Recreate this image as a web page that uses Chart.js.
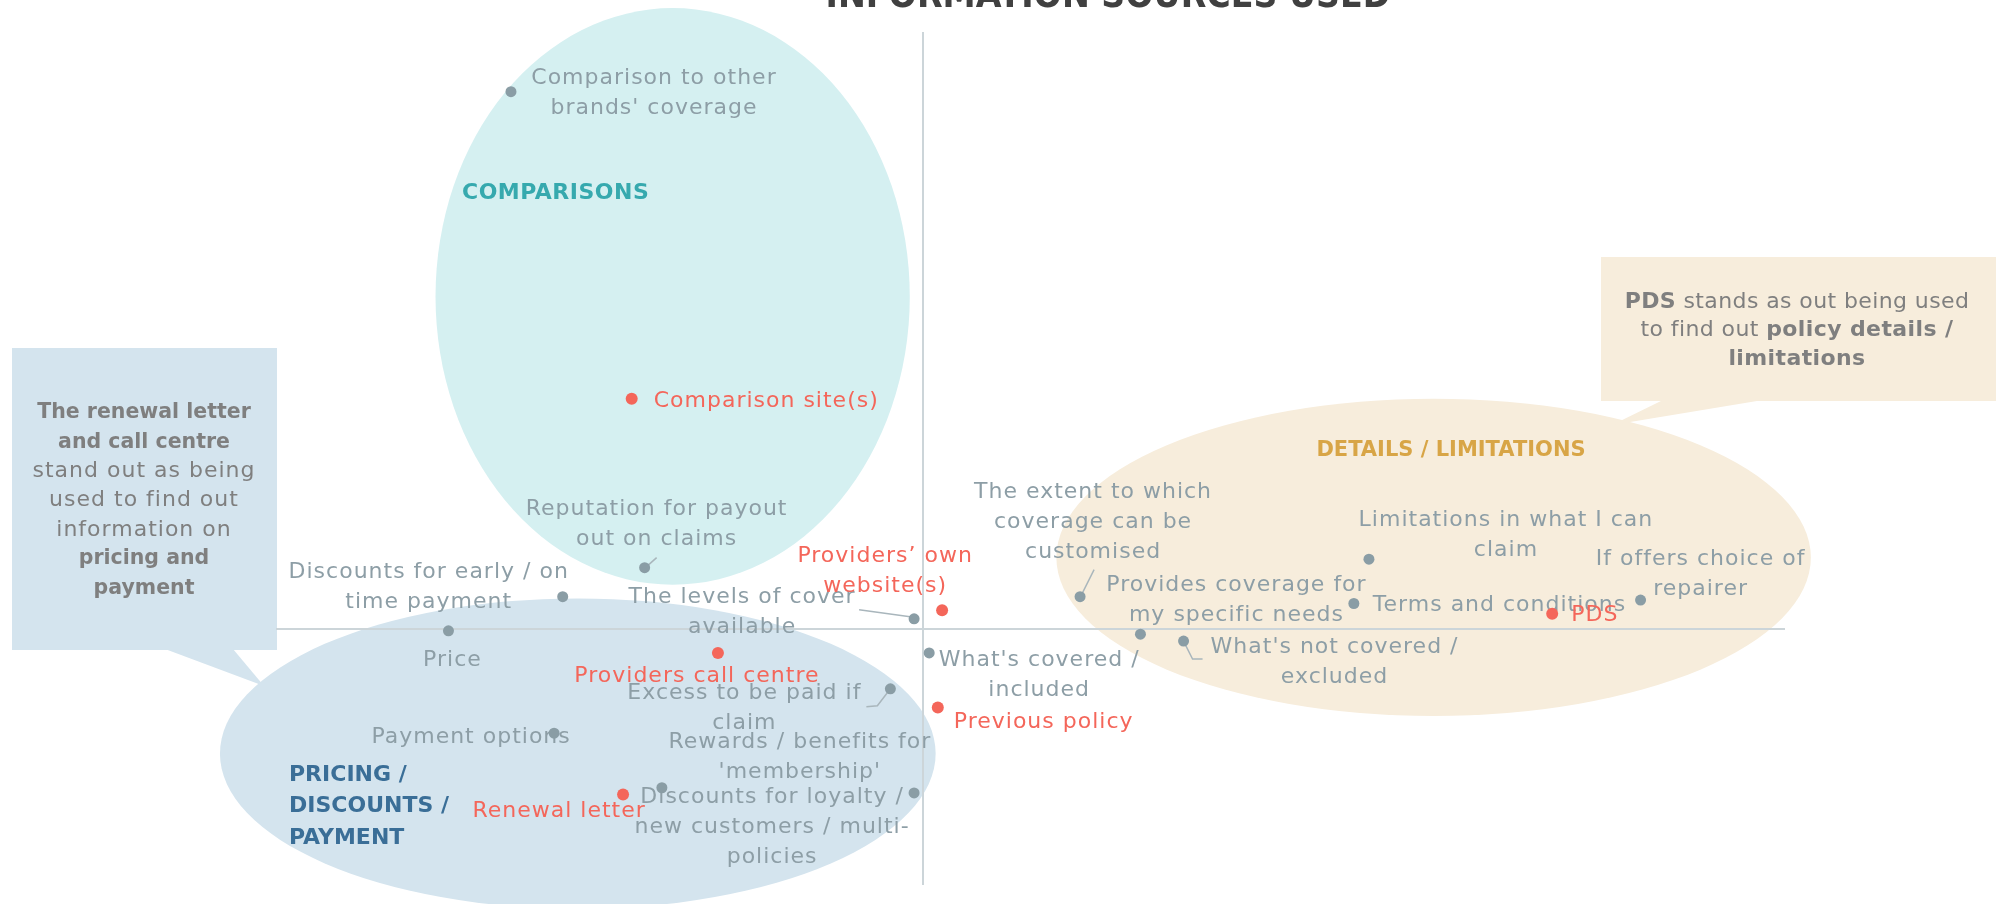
<!DOCTYPE html>
<html>
<head>
<meta charset="utf-8">
<title>Information sources used</title>
<script src="https://cdn.jsdelivr.net/npm/chart.js@4.4.1/dist/chart.umd.min.js"></script>
<style>
  html, body { margin: 0; padding: 0; background: #fff; }
  #wrap { width: 1996px; height: 904px; }
</style>
</head>
<body>
<div id="wrap"><canvas id="chart" width="1996" height="904"></canvas></div>
<script>
// what people look for (grey points)
const attrLabels = [
  "Comparison to other\nbrands' coverage",
  "Reputation for payout\nout on claims",
  "Discounts for early / on\ntime payment",
  "Price",
  "The levels of cover\navailable",
  "What's covered /\nincluded",
  "Excess to be paid if\nclaim",
  "Payment options",
  "Rewards / benefits for\n'membership'",
  "Discounts for loyalty /\nnew customers / multi-\npolicies",
  "The extent to which\ncoverage can be\ncustomised",
  "Provides coverage for\nmy specific needs",
  "Terms and conditions",
  "Limitations in what I can\nclaim",
  "If offers choice of\nrepairer",
  "What's not covered /\nexcluded"
];
const attrX = [-1.91, -1.29, -1.67, -2.20, -0.04, 0.03, -0.15, -1.71, -1.21, -0.04, 0.73, 1.01, 2.00, 2.07, 3.33, 1.21];
const attrY = [3.15, 0.36, 0.19, -0.01, 0.06, -0.14, -0.35, -0.61, -0.93, -0.96, 0.19, -0.03, 0.15, 0.41, 0.17, -0.07];

// information sources (red points)
const sourceLabels = [
  "Comparison site(s)",
  "Providers\u2019 own\nwebsite(s)",
  "Providers call centre",
  "Previous policy",
  "Renewal letter",
  "PDS"
];
const sourceX = [-1.35, 0.09, -0.95, 0.07, -1.39, 2.92];
const sourceY = [1.35, 0.11, -0.14, -0.46, -0.97, 0.09];

const groupNames = ["COMPARISONS", "DETAILS / LIMITATIONS", "PRICING /\nDISCOUNTS /\nPAYMENT"];

// label placement relative to the point: dx, dy (px), align, optional leader line
const attrPlace = [
  [143, -13, "center"],
  [12, -58, "center", [[3, -2], [12, -10]]],
  [-134, -24, "center"],
  [4, 29, "center"],
  [-172, -22, "center", [[-4, -2], [-55, -9]]],
  [110, 7, "center"],
  [-146, 4, "center", [[0, 0], [-13, 17], [-24, 18]]],
  [-83, 4, "center"],
  [138, -45, "center"],
  [-142, 4, "center"],
  [13, -104, "center", [[2, -3], [14, -27]]],
  [96, -49, "center"],
  [19, 2, "left"],
  [137, -39, "center"],
  [60, -41, "center"],
  [151, 6, "center", [[0, 0], [9, 18], [19, 18]]]
];
const sourcePlace = [
  [22, 2, "left"],
  [-57, -54, "center"],
  [-21, 23, "center"],
  [16, 15, "left"],
  [-64, 17, "center"],
  [19, 2, "left"]
];

const FONT = '"DejaVu Sans", "Open Sans", sans-serif';
const GREY_TXT = "#8d9ea6";
const RED = "#f4665a";

function drawLines(ctx, text, x, y, align, font, color, lh, spacing) {
  ctx.save();
  ctx.font = font;
  ctx.letterSpacing = (spacing || 0) + "px";
  ctx.fillStyle = color;
  ctx.textAlign = align;
  ctx.textBaseline = "middle";
  text.split("\n").forEach((line, i) => ctx.fillText(line, x, y + i * lh));
  ctx.restore();
}

// runs: [[text, bold], ...] centred on x
function drawRuns(ctx, runs, x, y, style, color) {
  ctx.save();
  ctx.fillStyle = color;
  ctx.textBaseline = "middle";
  ctx.textAlign = "left";
  const setFont = r => {
    const st = r[1] ? style.bold : style.normal;
    ctx.font = (r[1] ? "bold " : "") + st.size + "px " + FONT;
    ctx.letterSpacing = st.spacing + "px";
  };
  let total = 0;
  runs.forEach(r => { setFont(r); total += ctx.measureText(r[0]).width; });
  let cx = x - total / 2;
  runs.forEach(r => {
    setFont(r);
    ctx.fillText(r[0], cx, y);
    cx += ctx.measureText(r[0]).width;
  });
  ctx.restore();
}

function ellipse(ctx, sx, sy, cx, cy, rx, ry, color) {
  const px = sx.getPixelForValue(cx), py = sy.getPixelForValue(cy);
  const prx = Math.abs(sx.getPixelForValue(cx + rx) - px);
  const pry = Math.abs(sy.getPixelForValue(cy + ry) - py);
  ctx.beginPath();
  ctx.ellipse(px, py, prx, pry, 0, 0, Math.PI * 2);
  ctx.fillStyle = color;
  ctx.fill();
}

function poly(ctx, pts, color) {
  ctx.beginPath();
  ctx.moveTo(pts[0][0], pts[0][1]);
  pts.slice(1).forEach(p => ctx.lineTo(p[0], p[1]));
  ctx.closePath();
  ctx.fillStyle = color;
  ctx.fill();
}

const backdrop = {
  id: "backdrop",
  beforeDraw(chart) {
    const { ctx } = chart;
    const sx = chart.scales.x, sy = chart.scales.y;
    ctx.save();
    // group bubbles
    ellipse(ctx, sx, sy, -1.16, 1.95, 1.10, 1.69, "#d5f0f1");
    ellipse(ctx, sx, sy, -1.60, -0.73, 1.66, 0.91, "#d4e4ee");
    ellipse(ctx, sx, sy, 2.37, 0.42, 1.75, 0.93, "#f7eddc");
    // callouts
    ctx.fillStyle = "#d4e4ee";
    ctx.fillRect(12, 348, 265, 302);
    poly(ctx, [[165, 649], [233, 649], [264, 686]], "#d4e4ee");
    ctx.fillStyle = "#f7eddc";
    ctx.fillRect(1601, 257, 395, 144);
    poly(ctx, [[1663, 400], [1763, 400], [1612, 425]], "#f7eddc");
    ctx.restore();
  },
  beforeDatasetsDraw(chart) {
    const { ctx } = chart;
    const a = chart.getDatasetMeta(0).data;
    const s = chart.getDatasetMeta(1).data;
    const labelFont = "22px " + FONT;
    // leader lines
    ctx.save();
    ctx.strokeStyle = "#a9b6bc";
    ctx.lineWidth = 1.5;
    attrPlace.forEach((p, i) => {
      if (!p[3]) return;
      ctx.beginPath();
      p[3].forEach((o, j) => {
        const fn = j ? "lineTo" : "moveTo";
        ctx[fn](a[i].x + o[0], a[i].y + o[1]);
      });
      ctx.stroke();
    });
    ctx.restore();
    attrLabels.forEach((t, i) => {
      const p = attrPlace[i];
      drawLines(ctx, t, a[i].x + p[0], a[i].y + p[1], p[2], labelFont, GREY_TXT, 30, 1);
    });
    sourceLabels.forEach((t, i) => {
      const p = sourcePlace[i];
      drawLines(ctx, t, s[i].x + p[0], s[i].y + p[1], p[2], labelFont, RED, 30, 1);
    });
  },
  afterDraw(chart) {
    const { ctx } = chart;
    // group names
    drawLines(ctx, groupNames[0], 462, 193, "left", "bold 22px " + FONT, "#36a9ae", 32, 0.5);
    drawLines(ctx, groupNames[1], 1451, 451, "center", "bold 21px " + FONT, "#d8a546", 32, 0);
    drawLines(ctx, groupNames[2], 289, 775, "left", "bold 22px " + FONT, "#3a6e97", 31.5, 0);
    // callout text
    const boxGrey = "#7f7f7f";
    const leftBox = [
      [["The renewal letter", true]],
      [["and call centre", true]],
      [["stand out as being", false]],
      [["used to find out", false]],
      [["information on", false]],
      [["pricing and", true]],
      [["payment", true]]
    ];
    const leftStyle = { normal: { size: 22, spacing: 1 }, bold: { size: 20.5, spacing: 0 } };
    leftBox.forEach((runs, i) => drawRuns(ctx, runs, 144, 413 + i * 29.2, leftStyle, boxGrey));
    const rightBox = [
      [["PDS", true], [" stands as out being used", false]],
      [["to find out ", false], ["policy details /", true]],
      [["limitations", true]]
    ];
    const rightStyle = { normal: { size: 22, spacing: 0.4 }, bold: { size: 22, spacing: 0.4 } };
    rightBox.forEach((runs, i) => drawRuns(ctx, runs, 1797, 302 + i * 28.5, rightStyle, boxGrey));
    // title, cut off by the top edge
    ctx.save();
    ctx.font = 'bold 37px "Liberation Sans Narrow", "DejaVu Sans Condensed", sans-serif';
    ctx.fillStyle = "#404040";
    ctx.textAlign = "center";
    ctx.textBaseline = "alphabetic";
    ctx.fillText("INFORMATION SOURCES USED", 1108, 7);
    ctx.restore();
  }
};

const zeroOnly = c => (c.tick.value === 0 ? "#ccd5d9" : "rgba(0,0,0,0)");

new Chart(document.getElementById("chart").getContext("2d"), {
  type: "scatter",
  data: {
    datasets: [
      {
        label: "Attributes",
        data: attrX.map((x, i) => ({ x, y: attrY[i] })),
        backgroundColor: "#8a9da5",
        borderWidth: 0,
        pointRadius: 5.5
      },
      {
        label: "Sources",
        data: sourceX.map((x, i) => ({ x, y: sourceY[i] })),
        backgroundColor: RED,
        borderWidth: 0,
        pointRadius: 6
      }
    ]
  },
  options: {
    responsive: false,
    animation: false,
    layout: { padding: { left: 276, right: 211, top: 32, bottom: 19 } },
    plugins: { legend: { display: false }, tooltip: { enabled: false } },
    scales: {
      x: {
        min: -3, max: 4,
        ticks: { display: false, stepSize: 1 },
        grid: { drawTicks: false, color: zeroOnly, lineWidth: 2 },
        border: { display: false }
      },
      y: {
        min: -1.5, max: 3.5,
        ticks: { display: false, stepSize: 0.5 },
        grid: { drawTicks: false, color: zeroOnly, lineWidth: 2 },
        border: { display: false }
      }
    }
  },
  plugins: [backdrop]
});
</script>
</body>
</html>
